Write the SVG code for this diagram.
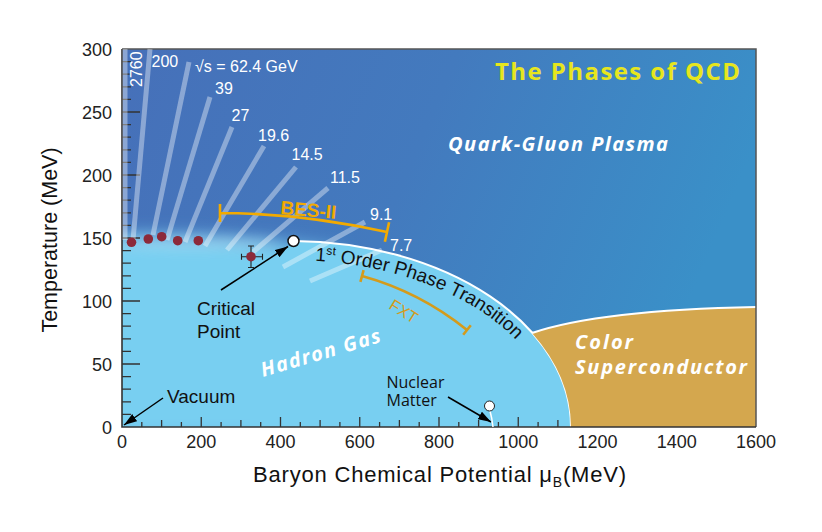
<svg xmlns="http://www.w3.org/2000/svg" width="822" height="532" viewBox="0 0 822 532">
<defs>
  <linearGradient id="bg" x1="0" y1="0" x2="1" y2="0.25">
    <stop offset="0" stop-color="#4670b9"/>
    <stop offset="0.5" stop-color="#437abe"/>
    <stop offset="1" stop-color="#3a90c8"/>
  </linearGradient>
  <clipPath id="plot"><rect x="122" y="49" width="634" height="378"/></clipPath>
  <filter id="blur" x="-20%" y="-50%" width="140%" height="200%"><feGaussianBlur stdDeviation="9"/></filter>
  <filter id="blur2" x="-50%" y="-200%" width="200%" height="500%"><feGaussianBlur stdDeviation="6"/></filter>
  <marker id="arr" viewBox="0 0 12 8" refX="12" refY="4" markerWidth="13" markerHeight="9" orient="auto" markerUnits="userSpaceOnUse">
    <path d="M0,0 L12,4 L0,8 Z" fill="#000"/>
  </marker>
  <path id="fo" d="M290,260 A265,167 0 0 1 555,427"/>
</defs>
<style>
  .sans { font-family: "Liberation Sans", Arial, sans-serif; }
  .hum { font-family: "Open Sans", "Noto Sans", sans-serif; }
  .traj { stroke: #ffffff; stroke-opacity: 0.38; stroke-width: 5; fill: none; }
  .en { fill: #ffffff; font-size: 16px; font-family: "Liberation Sans", Arial, sans-serif; }
  .phase { font-family: "Open Sans", "Noto Sans", sans-serif; font-weight: bold; font-style: italic; fill: #ffffff; font-size: 20px; }
  .arrow { stroke: #000; stroke-width: 1.5; fill: none; marker-end: url(#arr); }
  .dot { fill: #8c2a3a; }
  .tick { stroke: #333; stroke-width: 1.3; fill: none; }
  .num { font-family: "Liberation Sans", Arial, sans-serif; font-size: 18px; fill: #222; }
  .lab { font-family: "Liberation Sans", Arial, sans-serif; font-size: 19px; fill: #111; }
  .bar { fill: none; stroke-width: 2.6; }
</style>

<rect width="822" height="532" fill="#ffffff"/>

<g id="qgp">
  <rect x="122" y="49" width="634" height="378" fill="url(#bg)"/>
  <text class="phase" x="448" y="151" textLength="220" lengthAdjust="spacing">Quark-Gluon Plasma</text>
</g>

<g id="hadron-gas">
  <g clip-path="url(#plot)">
    <path filter="url(#blur)" fill="#78cff1" d="M80,236 C180,234 260,238 340,252 L340,440 L80,440 Z"/>
    <ellipse filter="url(#blur2)" cx="190" cy="243" rx="90" ry="7" fill="#ffffff" opacity="0.22"/>
    <path fill="#78cff1" d="M294,241 A281,186 0 0 1 571,427 L250,427 L250,262 C270,260 285,252 294,241 Z"/>
  </g>
  <path d="M294,241 A281,186 0 0 1 571,427" fill="none" stroke="#ffffff" stroke-width="2"/>
  <text class="phase" font-size="22" transform="translate(263,377) rotate(-16.5)" textLength="124" lengthAdjust="spacing">Hadron Gas</text>
</g>

<g id="color-sc">
  <path fill="#d4a74e" d="M532,333 Q600,310 756,307 L756,427 L571,427 A281,186 0 0 0 532,333 Z"/>
  <path d="M532,333 Q600,310 756,307" fill="none" stroke="#ffffff" stroke-width="2"/>
  <text class="phase" x="575" y="349" textLength="58" lengthAdjust="spacing">Color</text>
  <text class="phase" x="575" y="374" textLength="172" lengthAdjust="spacing">Superconductor</text>
</g>

<g id="axes">
  <path d="M122,49 H756 V427" fill="none" stroke="#555" stroke-width="1.5"/>
  <path class="tick" d="M122,364h18 M122,301h18 M122,238h18 M122,175h18 M122,112h18"/>
  <path class="tick" d="M122,414.4h9 M122,401.8h9 M122,389.2h9 M122,376.6h9 M122,351.4h9 M122,338.8h9 M122,326.2h9 M122,313.6h9 M122,288.4h9 M122,275.8h9 M122,263.2h9 M122,250.6h9 M122,225.4h9 M122,212.8h9 M122,200.2h9 M122,187.6h9 M122,162.4h9 M122,149.8h9 M122,137.2h9 M122,124.6h9 M122,99.4h9 M122,86.8h9 M122,74.2h9 M122,61.6h9"/>
  <path class="tick" d="M201.25,427v-10 M280.5,427v-10 M359.75,427v-10 M439,427v-10 M518.25,427v-10"/>
  <path class="tick" d="M161.6,427v-7 M240.9,427v-7 M320.1,427v-7 M399.4,427v-7 M478.6,427v-7 M557.9,427v-7"/>
  <path class="tick" d="M141.8,427v-5 M181.4,427v-5 M221.1,427v-5 M260.7,427v-5 M300.3,427v-5 M339.9,427v-5 M379.6,427v-5 M419.2,427v-5 M458.8,427v-5 M498.4,427v-5 M538.1,427v-5"/>
  <path d="M122,49 V427 H756" fill="none" stroke="#333" stroke-width="1.6"/>
  <g class="num" text-anchor="end">
    <text x="112" y="55.5">300</text>
    <text x="112" y="118.5">250</text>
    <text x="112" y="181.5">200</text>
    <text x="112" y="244.5">150</text>
    <text x="112" y="307.5">100</text>
    <text x="112" y="370.5">50</text>
    <text x="112" y="433.5">0</text>
  </g>
  <g class="num" text-anchor="middle">
    <text x="122" y="448">0</text>
    <text x="201.25" y="448">200</text>
    <text x="280.5" y="448">400</text>
    <text x="359.75" y="448">600</text>
    <text x="439" y="448">800</text>
    <text x="518.25" y="448">1000</text>
    <text x="597.5" y="448">1200</text>
    <text x="676.75" y="448">1400</text>
    <text x="756" y="448">1600</text>
  </g>
  <text class="sans" font-size="22" fill="#111" x="253" y="482" textLength="373" lengthAdjust="spacing">Baryon Chemical Potential μ<tspan font-size="14" dy="5">B</tspan><tspan dy="-5">(MeV)</tspan></text>
  <text class="sans" font-size="21.5" fill="#111" text-anchor="middle" transform="translate(57,240) rotate(-90)">Temperature (MeV)</text>
</g>

<g id="trajectories">
  <path class="traj" d="M125,49 L125,240"/>
  <path class="traj" d="M150,49 L133,240"/>
  <path class="traj" d="M189,62 L153,235"/>
  <path class="traj" d="M210,97 L167,240"/>
  <path class="traj" d="M232,127 L185,242"/>
  <path class="traj" d="M264,146 L205,246"/>
  <path class="traj" d="M296,167 L227,250"/>
  <path class="traj" d="M328,188 L253,252"/>
  <path class="traj" d="M365,222 L283,267"/>
  <path class="traj" d="M382,250 L310,281"/>
  <text class="en" transform="translate(141.5,87) rotate(-90)">2760</text>
  <text class="en" x="151.5" y="67">200</text>
  <text class="en" x="195" y="72">√s = 62.4 GeV</text>
  <text class="en" x="215" y="94">39</text>
  <text class="en" x="231.5" y="120.7">27</text>
  <text class="en" x="258" y="140.7">19.6</text>
  <text class="en" x="291.5" y="160">14.5</text>
  <text class="en" x="330" y="183">11.5</text>
  <text class="en" x="370" y="220">9.1</text>
  <text class="en" x="390" y="250.5">7.7</text>
</g>

<g id="freezeout-points">
  <circle class="dot" cx="131.5" cy="242.3" r="4.8"/>
  <circle class="dot" cx="148.3" cy="239" r="4.8"/>
  <circle class="dot" cx="161.7" cy="236.7" r="4.8"/>
  <circle class="dot" cx="177.7" cy="240.7" r="4.8"/>
  <circle class="dot" cx="198.3" cy="240.7" r="4.8"/>
  <path d="M241.5,256.7 H262.5 M241.5,253.7 V259.7 M262.5,253.7 V259.7 M251,246 V267.5 M248,246 H254 M248,267.5 H254" stroke="#222" stroke-width="1.1" fill="none"/>
  <circle class="dot" cx="251" cy="256.7" r="4.8"/>
</g>

<g id="bes2">
  <path class="bar" stroke="#f2aa00" d="M220,213 Q300,213 387,232 M220,204 V222 M389.1,222.2 L384.9,241.8"/>
  <text class="sans" font-size="19" font-weight="bold" fill="#f2aa00" transform="translate(280,214) rotate(5)">BES-II</text>
</g>

<g id="fxt">
  <path class="bar" stroke="#d49b1c" d="M362,276 Q420,292 467,330 M363.6,270.2 L360.4,281.8 M470.8,325.3 L463.2,334.7"/>
  <text class="sans" font-size="16" fill="#d49b1c" transform="translate(388,308) rotate(32)">FXT</text>
</g>

<g id="first-order">
  <text class="lab"><textPath href="#fo" startOffset="25">1<tspan font-size="12" dy="-7">st</tspan><tspan dy="7"> Order Phase Transition</tspan></textPath></text>
</g>

<g id="title">
  <text class="hum" font-size="24" font-weight="bold" fill="#e6e61e" x="495" y="80" textLength="245" lengthAdjust="spacing">The Phases of QCD</text>
</g>

<g id="connectors">
  <path class="arrow" d="M221,290 L288,246.5"/>
  <path class="arrow" d="M163,398 L124,425"/>
  <path class="arrow" d="M448,397 L491,422"/>
</g>

<g id="critical-point">
  <circle cx="293.5" cy="241" r="5.5" fill="#ffffff" stroke="#111" stroke-width="1.5"/>
  <text class="lab" x="197" y="315">Critical</text>
  <text class="lab" x="197" y="338">Point</text>
</g>

<g id="nuclear-matter">
  <path d="M490,411 Q492,418 493,427" stroke="#ffffff" stroke-width="1.5" fill="none"/>
  <circle cx="489.5" cy="406" r="5" fill="#ffffff" stroke="#222" stroke-width="1"/>
  <text class="hum" font-size="16" fill="#111" x="386.5" y="387.5">Nuclear</text>
  <text class="hum" font-size="16" fill="#111" x="386.5" y="405.5">Matter</text>
</g>

<g id="vacuum">
  <text class="lab" x="167" y="402.5">Vacuum</text>
</g>
</svg>
